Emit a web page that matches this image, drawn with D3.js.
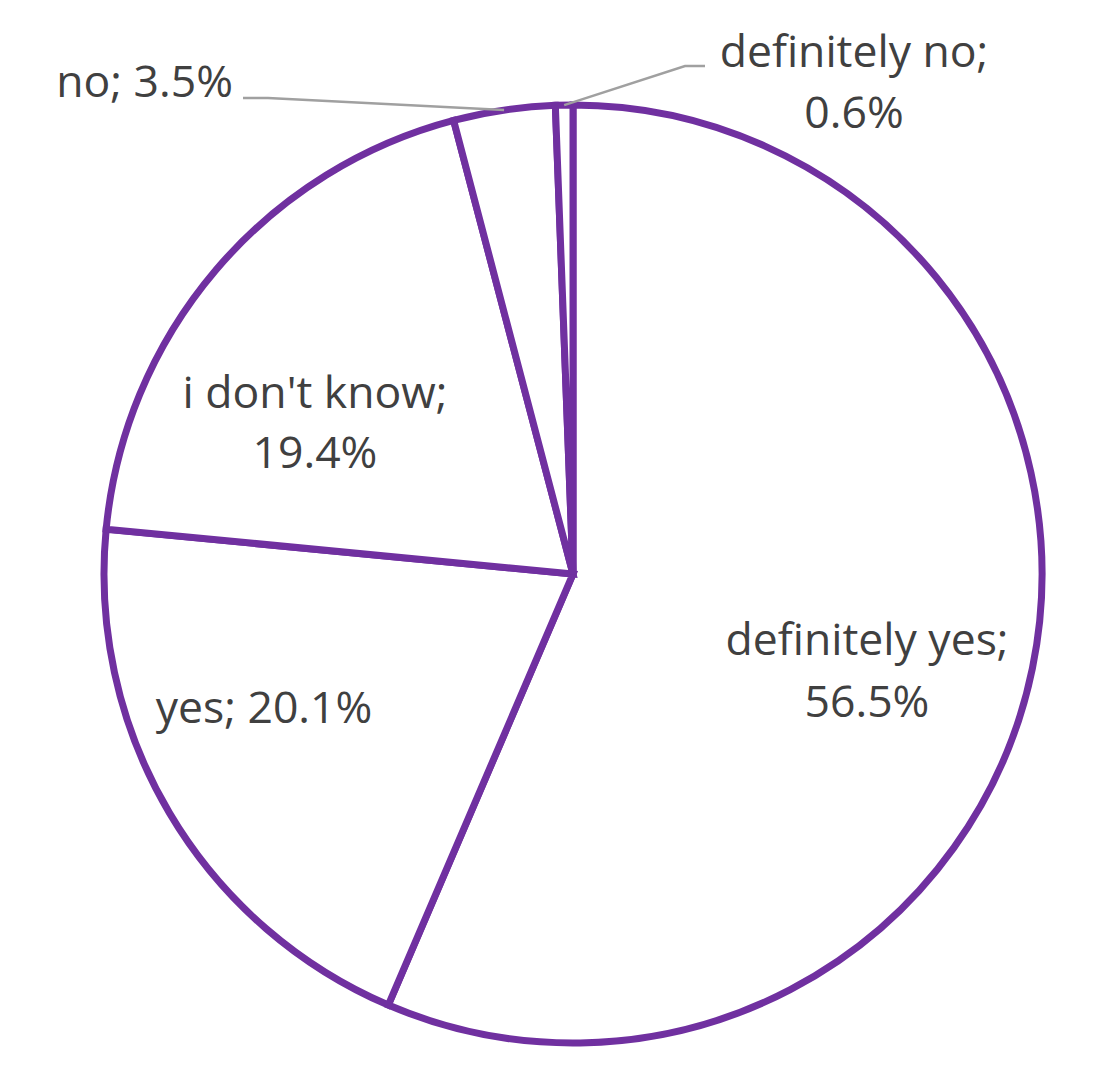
<!DOCTYPE html>
<html>
<head>
<meta charset="utf-8">
<script src="https://cdn.jsdelivr.net/npm/d3@7"></script>
<style>
  html, body { margin: 0; padding: 0; background: #ffffff; }
  svg { display: block; }
  text { font-family: "Open Sans", sans-serif; fill: #404040; }
</style>
</head>
<body>
<svg id="chart" width="1100" height="1068"></svg>
<script>
// ---- data ----
const categories = ["definitely yes", "yes", "i don't know", "no", "definitely no"];
const values = [56.5, 20.1, 19.4, 3.5, 0.6];
const valueLabels = ["56.5%", "20.1%", "19.4%", "3.5%", "0.6%"];

// ---- layout (label placement, relative to pie centre) ----
const labelLines = [
  [["definitely yes;", 294, 81], ["56.5%", 294, 143]],
  [["yes; 20.1%", -309, 149]],
  [["i don't know;", -258, -166], ["19.4%", -258, -106]],
  [["no; 3.5%", -340, -477, "end"]],
  [["definitely no;", 281, -507], ["0.6%", 281, -446]]
];
const leaders = [null, null, null,
  { text: [-330, -476], elbow: [-305, -476] },
  { text: [132, -508], elbow: [112, -508] }
];

const W = 1100, H = 1068;
const cx = 573, cy = 574, R = 469;
const purple = "#7030A0";

const svg = d3.select("#chart");
const g = svg.append("g").attr("transform", `translate(${cx},${cy})`);

const pie = d3.pie().sort(null).value(d => d.v);
const data = categories.map((c, i) => ({ c, v: values[i], i }));
const arcs = pie(data);
const arc = d3.arc().innerRadius(0).outerRadius(R);

g.selectAll("path.slice")
  .data(arcs)
  .join("path")
  .attr("class", "slice")
  .attr("d", arc)
  .attr("fill", "#ffffff")
  .attr("stroke", purple)
  .attr("stroke-width", 7)
  .attr("stroke-linejoin", "miter");

// leader lines
const edgeArc = d3.arc().innerRadius(R).outerRadius(R);
arcs.forEach((a, i) => {
  const l = leaders[i];
  if (!l) return;
  const p = edgeArc.centroid(a);
  g.append("polyline")
    .attr("points", [l.text, l.elbow, p].map(q => q.join(",")).join(" "))
    .attr("fill", "none")
    .attr("stroke", "#a0a0a0")
    .attr("stroke-width", 2.5);
});

// labels
arcs.forEach((a, i) => {
  labelLines[i].forEach(([t, x, y, anchor]) => {
    g.append("text")
      .attr("x", x)
      .attr("y", y)
      .attr("text-anchor", anchor || "middle")
      .attr("font-size", 44.5)
      .text(t);
  });
});
</script>
</body>
</html>
